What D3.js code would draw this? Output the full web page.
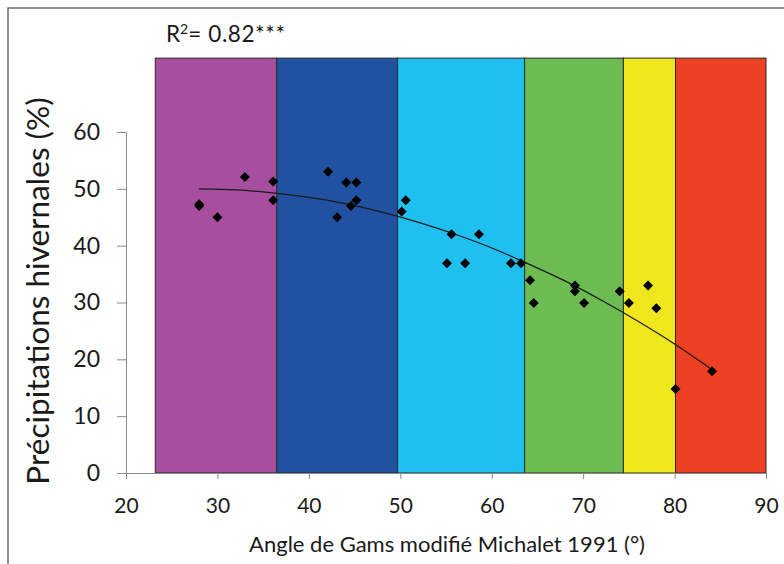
<!DOCTYPE html>
<html>
<head>
<meta charset="utf-8">
<script src="https://cdn.jsdelivr.net/npm/d3@7"></script>
<style>
  html, body { margin: 0; padding: 0; background: #fff; }
  svg { display: block; }
  text { font-family: Lato, "Open Sans", sans-serif; fill: #1a1a1a; }
</style>
</head>
<body>
<svg id="chart" width="784" height="564"></svg>
<script>
// ---- Data ----
const bandStarts = [23.2, 36.5, 49.7, 63.6, 74.4, 80.1];
const bandEnds   = [36.5, 49.7, 63.6, 74.4, 80.1, 90];
const bandColors = ["#A84E9E", "#2151A1", "#1FBFEF", "#6DBC51", "#EFE71B", "#EE4124"];
const bandTop = 73;

const pointX = [28, 28, 30, 33, 36.1, 36.1, 42.1, 43.1, 44.1, 44.6, 45.2, 45.2, 50.15, 50.6,
                55.1, 55.6, 57.1, 58.6, 62.1, 63.2, 64.2, 64.6, 69.1, 69.1, 70.1,
                74.0, 75.0, 77.1, 78.0, 80.1, 84.1];
const pointY = [47, 47.3, 45, 52.1, 51.3, 48, 53, 45, 51.1, 47, 51.1, 48, 46, 48,
                36.9, 42, 36.9, 42, 36.9, 36.9, 33.9, 29.9, 33, 32, 29.9,
                32, 29.9, 33, 29, 14.8, 17.9];

const trendX = [28, 32, 36, 40, 44, 48, 52, 56, 60, 64, 68, 72, 76, 80, 84];
const trendY = [50.0, 49.8, 49.3, 48.5, 47.4, 45.9, 44.1, 42.0, 39.6, 36.8, 33.8, 30.4, 26.7, 22.7, 18.3];

const xTicks = [20, 30, 40, 50, 60, 70, 80, 90];
const yTicks = [0, 10, 20, 30, 40, 50, 60];

const r2Label = "R";
const r2Rest = "= 0.82***";
const xTitle = "Angle de Gams modifié Michalet 1991 (°)";
const yTitle = "Précipitations hivernales (%)";

// ---- Layout ----
const svg = d3.select("#chart");
const x = d3.scaleLinear().domain([20, 90]).range([126, 766]);
const y = d3.scaleLinear().domain([0, 60]).range([473, 132]);

// outer frame
svg.append("rect").attr("x", 8).attr("y", 8).attr("width", 820).attr("height", 620)
  .attr("fill", "none").attr("stroke", "#6e6e6e").attr("stroke-width", 1.5);

// bands
svg.append("g").selectAll("rect").data(bandStarts).join("rect")
  .attr("x", (d) => x(d))
  .attr("y", y(bandTop))
  .attr("width", (d, i) => x(bandEnds[i]) - x(d))
  .attr("height", y(0) - y(bandTop))
  .attr("fill", (d, i) => bandColors[i])
  .attr("stroke", "#2a2a2a").attr("stroke-width", 1);

// axes
const xAxis = d3.axisBottom(x).tickValues(xTicks).tickSize(6).tickPadding(19);
const gx = svg.append("g").attr("transform", `translate(0,${y(0)})`).call(xAxis);
gx.select(".domain").attr("stroke", "#8a8a8a");
gx.selectAll(".tick line").attr("stroke", "#8a8a8a");
gx.selectAll(".tick text").attr("font-size", 21).attr("font-family", "Lato, sans-serif").attr("fill", "#1a1a1a");

const yAxis = d3.axisLeft(y).tickValues(yTicks).tickSize(9).tickPadding(17).tickSizeOuter(0);
const gy = svg.append("g").attr("transform", `translate(${x(20)},0)`).call(yAxis);
gy.select(".domain").attr("stroke", "#8a8a8a");
gy.selectAll(".tick line").attr("stroke", "#8a8a8a");
gy.selectAll(".tick text").attr("font-size", 23).attr("font-family", "Lato, sans-serif").attr("fill", "#1a1a1a");

// trend line
const line = d3.line().x((d) => x(d)).y((d, i) => y(trendY[i])).curve(d3.curveMonotoneX);
svg.append("path").datum(trendX).attr("d", line)
  .attr("fill", "none").attr("stroke", "#1a1a1a").attr("stroke-width", 1.2);

// points
const sym = d3.symbol().type(d3.symbolSquare).size(50);
svg.append("g").selectAll("path").data(pointX).join("path")
  .attr("d", sym)
  .attr("transform", (d, i) => `translate(${x(d)},${y(pointY[i])}) rotate(45)`)
  .attr("fill", "#000");

// R² label
const r2 = svg.append("text").attr("x", 166).attr("y", 42).attr("font-size", 22.5);
r2.append("tspan").text(r2Label);
r2.append("tspan").text("2").attr("font-size", 14).attr("dy", -8);
r2.append("tspan").text(r2Rest).attr("dy", 8).attr("letter-spacing", 0.6);

// axis titles
svg.append("text").attr("x", 447).attr("y", 552).attr("text-anchor", "middle")
  .attr("font-size", 22).text(xTitle);
svg.append("text").attr("transform", "translate(49,291) rotate(-90)")
  .attr("text-anchor", "middle").attr("font-size", 31.5).text(yTitle);
</script>
</body>
</html>
